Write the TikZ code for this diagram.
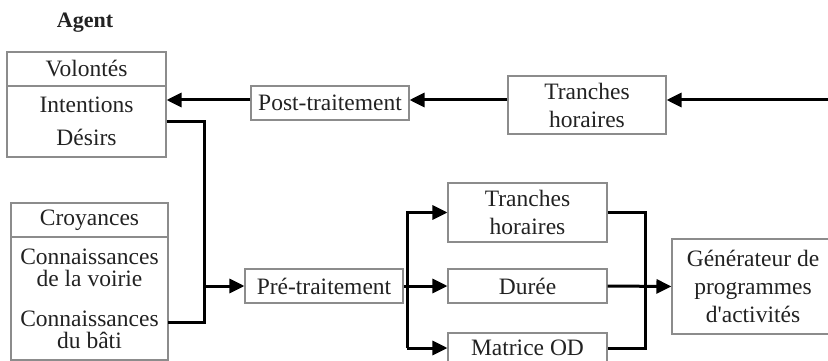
\documentclass[tikz,border=0pt]{standalone}
\usepackage{fontspec}
\setmainfont{Liberation Serif}
\newfontfamily\plainserif{Liberation Serif}
\usetikzlibrary{arrows.meta}
\definecolor{txt}{HTML}{222222}
\definecolor{edge}{HTML}{8C8C8C}
\tikzset{
  box/.style={draw=edge, line width=1.1pt, rectangle, inner sep=0pt, align=center,
    text=txt, font=\fontsize{23.5}{28}\selectfont},
  lbl/.style={inner sep=0pt, align=center, text=txt},
  wire/.style={line width=3pt, black, line join=miter},
  arr/.style={wire, -{Triangle[length=15pt,width=14pt]}},
}
\begin{document}
\begin{tikzpicture}[x=1pt,y=-1pt]
\useasboundingbox (0,0) rectangle (828,361);
\node[lbl, font=\fontsize{22}{26}\selectfont\bfseries] (agent) at (85,23) {Agent};
% left boxes
\node[box, minimum width=159pt, minimum height=34pt] (vol) at (86.5,69) {Volontés};
\node[box, minimum width=159pt, minimum height=71pt, font=\fontsize{23.5}{33}\selectfont] (intent) at (86.5,121.5) {Intentions\\Désirs};
\node[box, minimum width=157pt, minimum height=34pt] (croy) at (89.5,220) {Croyances};
\node[box, minimum width=157pt, minimum height=123pt] (know) at (89.5,298.5) {};
\node[lbl, font=\fontsize{23.5}{22}\selectfont] (voirie) at (89.5,268) {Connaissances\\de la voirie};
\node[lbl, font=\fontsize{23.5}{22}\selectfont] (bati) at (89.5,330) {Connaissances\\du bâti};
% top row
\node[box, minimum width=158pt, minimum height=34pt] (post) at (330,103) {Post-traitement};
\node[box, minimum width=158pt, minimum height=58pt] (tr1) at (587,105) {Tranches\\horaires};
% middle
\node[box, minimum width=158pt, minimum height=34pt] (pre) at (324,286) {Pré-traitement};
\node[box, minimum width=159pt, minimum height=59pt] (tr2) at (527.5,212.5) {Tranches\\horaires};
\node[box, minimum width=159pt, minimum height=34pt] (dur) at (527.5,286) {Durée};
\node[box, minimum width=159pt, minimum height=36pt] (od) at (527.5,351) {};
\node[lbl, font=\fontsize{23.5}{28}\selectfont] (odt) at (527.5,348) {Matrice OD};
\node[box, minimum width=162pt, minimum height=95pt] (gen) at (753,286.5) {Générateur de\\programmes\\d{\plainserif '}activités};
% coordinates
\coordinate (rin) at (828,100);
\coordinate (bout) at (168,322);
\coordinate (jx) at (204,0);
\coordinate (jx2) at (407,0);
\coordinate (jx3) at (645,0);
% top flow
\draw[arr] (rin) -- (tr1.east |- rin);
\draw[arr] (tr1.west |- rin) -- (post.east |- rin);
\draw[arr] (post.west |- rin) -- (intent.east |- rin);
% left bus
\draw[wire] (intent.east) -| (jx |- bout) -- (bout);
\draw[arr] (jx |- pre) -- (pre.west);
% pre bus
\draw[arr] (jx2 |- odt) |- (tr2.west);
\draw[arr] (jx2 |- odt) -- (od.west |- odt);
\draw[arr] (pre.east) -- (dur.west);
% right bus
\draw[wire] (tr2.east) -| (jx3 |- odt) -- (od.east |- odt);
\draw[arr] (dur.east) -- (gen.west);
\end{tikzpicture}
\end{document}
